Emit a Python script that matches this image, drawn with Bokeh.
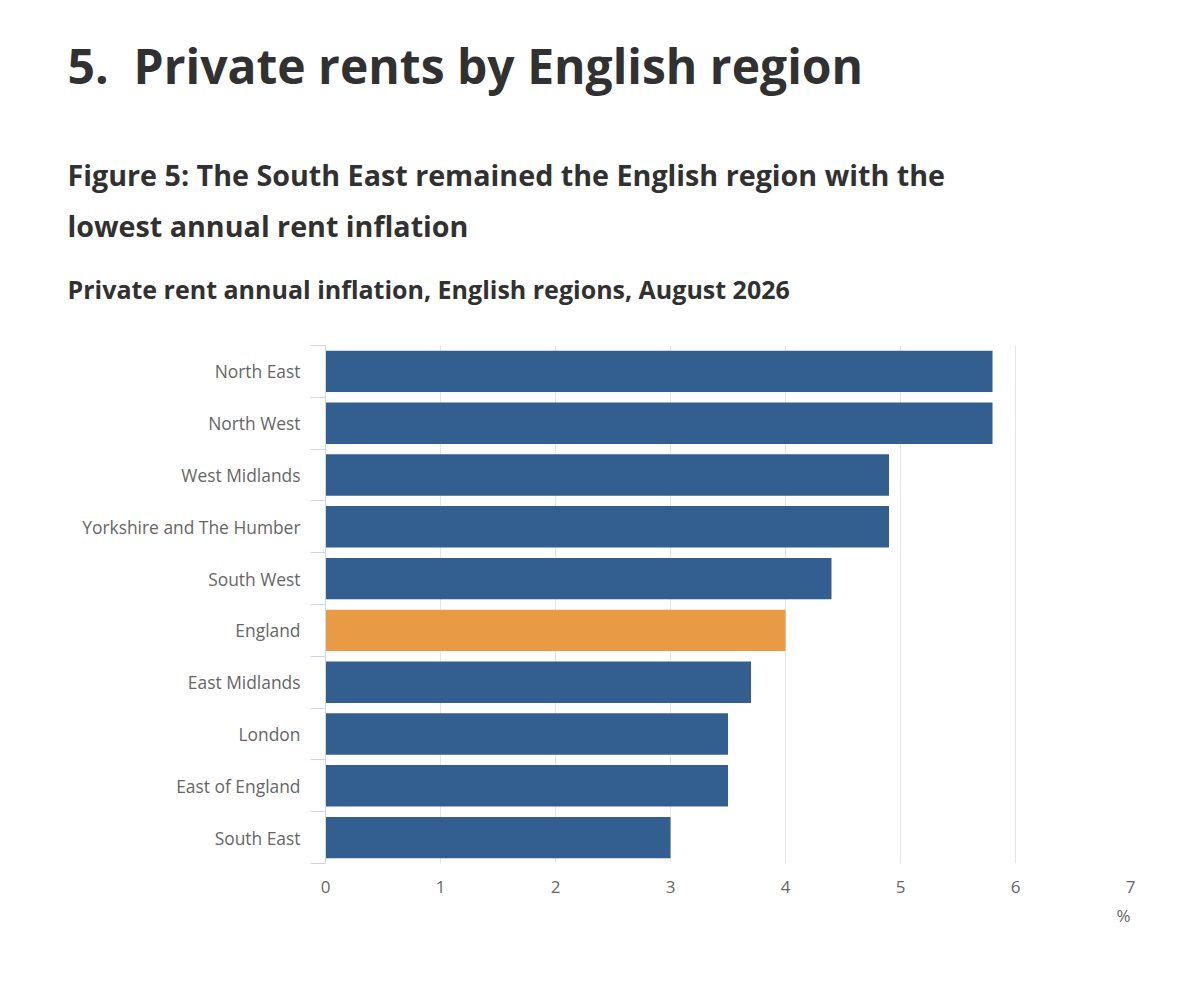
from bokeh.plotting import figure
from bokeh.models import Range1d, FixedTicker, Title
from bokeh.embed import file_html
from bokeh.resources import INLINE

regions = ["North East", "North West", "West Midlands", "Yorkshire and The Humber",
           "South West", "England", "East Midlands", "London", "East of England", "South East"]
inflation = [5.8, 5.8, 4.9, 4.9, 4.4, 4.0, 3.7, 3.5, 3.5, 3.0]
x_ticks = [0, 1, 2, 3, 4, 5, 6, 7]

BLUE = "#335e90"
ORANGE = "#e89a45"
colors = [ORANGE if r == "England" else BLUE for r in regions]
centers = [i + 0.5 for i in range(len(regions))]
bounds = list(range(len(regions) + 1))

FONT = "Open Sans"
LEFT = 325
TITLE_COLOR = "#323132"

p = figure(frame_width=805, frame_height=518, output_backend="svg", toolbar_location=None,
           x_range=Range1d(0, 7), y_range=Range1d(len(regions), 0),
           min_border_left=LEFT, min_border_right=40, min_border_bottom=120, min_border_top=345,
           outline_line_color=None, title=None)

p.hbar(y=centers, right=inflation, left=0, height=0.8, fill_color=colors, line_color=None)


def heading(text, size, standoff):
    return Title(text=text, align="left", text_font=FONT, text_font_size=size,
                 text_font_style="bold", text_color=TITLE_COLOR,
                 offset=67 - LEFT, standoff=standoff)


def spacer(standoff):
    return Title(text="\u00a0", align="left", text_font=FONT, text_font_size="10px",
                 text_color="#ffffff", standoff=standoff)


# "above" items are stacked from the plot outward, in the order added
above_items = [
    spacer(2.9),
    heading("Private rent annual inflation, English regions, August 2026", "25px", 41),
    heading("lowest annual rent inflation", "28.7px", 9.9),
    heading("Figure 5: The South East remained the English region with the", "28.7px", 9.9),
    spacer(34.2),
    heading("5.\u00a0 Private rents by English region", "48px", 0),
]
for item in above_items:
    p.add_layout(item, "above")

# x axis
p.xaxis.ticker = FixedTicker(ticks=x_ticks)
p.xaxis.axis_line_color = None
p.xaxis.major_tick_line_color = None
p.xaxis.minor_tick_line_color = None
p.xaxis.major_label_text_font = FONT
p.xaxis.major_label_text_font_size = "17px"
p.xaxis.major_label_text_color = "#666666"
p.xaxis.major_label_standoff = 11

# unit label under the x axis, right aligned
p.add_layout(Title(text="%", align="right", text_font=FONT, text_font_size="17px",
                   text_font_style="normal", text_color="#666666", standoff=12, offset=0), "below")

# y axis
p.yaxis.ticker = FixedTicker(ticks=centers, minor_ticks=bounds)
p.yaxis.major_label_overrides = {c: r for c, r in zip(centers, regions)}
p.yaxis.axis_line_color = "#ccd6eb"
p.yaxis.major_tick_line_color = None
p.yaxis.major_tick_out = 0
p.yaxis.major_tick_in = 0
p.yaxis.minor_tick_line_color = "#ccd6eb"
p.yaxis.minor_tick_out = 15
p.yaxis.minor_tick_in = 0
p.yaxis.major_label_text_font = FONT
p.yaxis.major_label_text_font_size = "17.4px"
p.yaxis.major_label_text_color = "#666666"
p.yaxis.major_label_standoff = 10

p.xgrid.grid_line_color = "#e6e6e6"
p.ygrid.grid_line_color = None

open("out.html", "w").write(file_html(p, INLINE))
